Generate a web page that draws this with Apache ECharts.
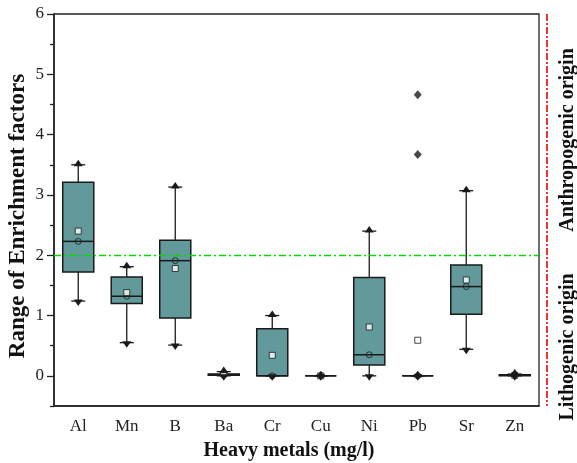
<!DOCTYPE html>
<html>
<head>
<meta charset="utf-8">
<script src="https://cdn.jsdelivr.net/npm/echarts@6/dist/echarts.min.js"></script>
<style>
  html, body { margin: 0; padding: 0; background: #fff; }
  #chart { width: 577px; height: 463px; }
</style>
</head>
<body>
<div id="chart"></div>
<script>
// enrichment factor ranges per metal
const metals = ['Al', 'Mn', 'B', 'Ba', 'Cr', 'Cu', 'Ni', 'Pb', 'Sr', 'Zn'];
const whiskerMin = [1.24, 0.55, 0.51, 0, 0, 0, 0, 0, 0.44, 0];
const q1 = [1.72, 1.20, 0.96, 0.01, 0, 0, 0.18, 0, 1.02, 0];
const median = [2.23, 1.32, 1.91, 0.02, 0, 0, 0.35, 0, 1.48, 0.01];
const q3 = [3.21, 1.64, 2.25, 0.03, 0.78, 0, 1.63, 0, 1.84, 0.02];
const whiskerMax = [3.50, 1.81, 3.13, 0.07, 1.00, 0, 2.40, 0, 3.07, 0.03];
const means = [2.40, 1.38, 1.78, 0.03, 0.34, 0, 0.81, 0.59, 1.59, 0.01];
const outliers = [['Pb', 4.66], ['Pb', 3.67]];
const threshold = 2;
const yTicks = [0, 1, 2, 3, 4, 5, 6];
const yMinorTicks = [-0.5, 0.5, 1.5, 2.5, 3.5, 4.5, 5.5];

const FONT = '"Liberation Serif", "Times New Roman", serif';
const BOX_COLOR = '#62999a';
const INK = '#1a1a1a';

const boxData = metals.map((m, i) => [i, whiskerMin[i], q1[i], median[i], q3[i], whiskerMax[i]]);

function renderBox(params, api) {
    const i = api.value(0);
    const x = api.coord([i, 0])[0];
    const yLo = api.coord([i, api.value(1)])[1];
    const yQ1 = api.coord([i, api.value(2)])[1];
    const yMed = api.coord([i, api.value(3)])[1];
    const yQ3 = api.coord([i, api.value(4)])[1];
    const yHi = api.coord([i, api.value(5)])[1];
    const half = api.size([1, 0])[0] * 0.32;
    const cap = 7;
    const line = { stroke: INK, lineWidth: 1.3 };
    return {
        type: 'group',
        children: [
            { type: 'line', shape: { x1: x, y1: yHi, x2: x, y2: yQ3 }, style: line },
            { type: 'line', shape: { x1: x, y1: yQ1, x2: x, y2: yLo }, style: line },
            { type: 'line', shape: { x1: x - cap, y1: yHi, x2: x + cap, y2: yHi }, style: line },
            { type: 'line', shape: { x1: x - cap, y1: yLo, x2: x + cap, y2: yLo }, style: line },
            {
                type: 'rect',
                shape: { x: x - half, y: yQ3, width: half * 2, height: yQ1 - yQ3 },
                style: { fill: BOX_COLOR, stroke: INK, lineWidth: 1.5 }
            },
            { type: 'line', shape: { x1: x - half, y1: yMed, x2: x + half, y2: yMed }, style: { stroke: INK, lineWidth: 1.5 } }
        ]
    };
}

function renderEnds(params, api) {
    const i = api.value(0);
    const x = api.coord([i, 0])[0];
    const yLo = api.coord([i, api.value(1)])[1];
    const yHi = api.coord([i, api.value(5)])[1];
    return {
        type: 'group',
        children: [
            { type: 'polygon', shape: { points: [[x - 4.5, yHi + 1.5], [x + 4.5, yHi + 1.5], [x, yHi - 5]] }, style: { fill: INK } },
            { type: 'polygon', shape: { points: [[x - 4.5, yLo - 1.5], [x + 4.5, yLo - 1.5], [x, yLo + 5]] }, style: { fill: INK } }
        ]
    };
}

const chart = echarts.init(document.getElementById('chart'), null, { renderer: 'canvas' });

const titleFont = 'bold 20px ' + FONT;

chart.setOption({
    animation: false,
    backgroundColor: '#fff',
    textStyle: { fontFamily: FONT },
    grid: {
        left: 54, right: 38, top: 14, bottom: 57,
        outerBoundsMode: 'none',
        containLabel: false,
        show: true, borderColor: '#222', borderWidth: 1.3, backgroundColor: 'transparent'
    },
    xAxis: {
        type: 'category',
        data: metals,
        boundaryGap: true,
        axisLine: { onZero: false, lineStyle: { color: '#222', width: 1.5 } },
        axisTick: { alignWithLabel: true, length: 6, lineStyle: { color: '#222', width: 1.3 } },
        axisLabel: { fontFamily: FONT, fontSize: 17, color: '#222', margin: 12 },
        splitLine: { show: false }
    },
    yAxis: [
        {
            type: 'value',
            min: -0.5,
            max: 6,
            interval: 0.5,
            axisLine: { show: true, onZero: false, lineStyle: { color: '#222', width: 1.5 } },
            axisTick: { show: true, length: 7, customValues: yTicks, lineStyle: { color: '#222', width: 1.3 } },
            axisLabel: { fontFamily: FONT, fontSize: 17, color: '#222', margin: 10, customValues: yTicks },
            splitLine: { show: false }
        },
        {
            type: 'value',
            min: -0.5,
            max: 6,
            interval: 0.5,
            position: 'left',
            axisLine: { show: false },
            axisTick: { show: true, length: 4, customValues: yMinorTicks, lineStyle: { color: '#222', width: 1.3 } },
            axisLabel: { show: false },
            splitLine: { show: false }
        }
    ],
    graphic: [
        {
            type: 'text',
            x: 18, y: 216, rotation: Math.PI / 2,
            style: {
                text: 'Range of Enrichment factors', fill: '#111',
                font: 'bold 23px ' + FONT, align: 'center', verticalAlign: 'middle'
            }
        },
        {
            type: 'text',
            x: 289, y: 451,
            style: {
                text: 'Heavy metals (mg/l)', fill: '#111',
                font: titleFont, align: 'center', verticalAlign: 'middle'
            }
        },
        {
            type: 'line',
            shape: { x1: 547, y1: 14, x2: 547, y2: 406 },
            style: { stroke: '#ee0000', lineWidth: 1.6, lineDash: [7, 2, 2, 2] }
        },
        {
            type: 'text',
            x: 568, y: 140, rotation: Math.PI / 2,
            style: {
                text: 'Anthropogenic origin', fill: '#111',
                font: titleFont, align: 'center', verticalAlign: 'middle'
            }
        },
        {
            type: 'text',
            x: 568, y: 347, rotation: Math.PI / 2,
            style: {
                text: 'Lithogenic origin', fill: '#111',
                font: titleFont, align: 'center', verticalAlign: 'middle'
            }
        }
    ],
    series: [
        {
            name: 'box',
            type: 'custom',
            renderItem: renderBox,
            data: boxData,
            encode: { x: 0, y: [1, 2, 3, 4, 5] },
            z: 2,
            markLine: {
                silent: true,
                symbol: 'none',
                label: { show: false },
                lineStyle: { color: '#00dd00', width: 1.3, type: [7, 3, 2, 3] },
                data: [{ yAxis: threshold }]
            }
        },
        {
            name: 'median',
            type: 'scatter',
            data: metals.map((m, i) => [i, median[i]]),
            symbol: 'circle',
            symbolSize: 6,
            itemStyle: { color: 'transparent', borderColor: INK, borderWidth: 1 },
            z: 3
        },
        {
            name: 'mean',
            type: 'scatter',
            data: metals.map((m, i) => [i, means[i]]),
            symbol: 'rect',
            symbolSize: 6,
            itemStyle: { color: '#fff', borderColor: INK, borderWidth: 1 },
            z: 3
        },
        {
            name: 'ends',
            type: 'custom',
            renderItem: renderEnds,
            data: boxData,
            encode: { x: 0, y: [1, 5] },
            z: 4
        },
        {
            name: 'outliers',
            type: 'scatter',
            data: outliers,
            symbol: 'diamond',
            symbolSize: [8, 9],
            itemStyle: { color: INK },
            z: 4
        }
    ]
});
</script>
</body>
</html>
